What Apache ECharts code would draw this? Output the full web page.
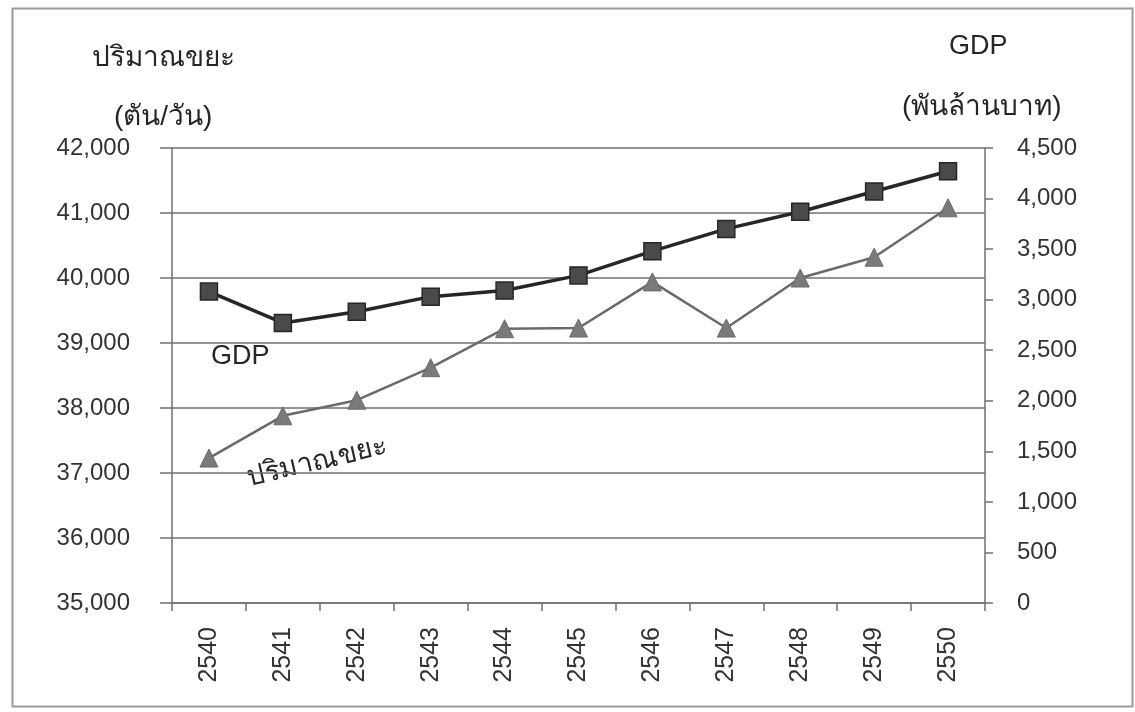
<!DOCTYPE html>
<html>
<head>
<meta charset="utf-8">
<script src="https://cdn.jsdelivr.net/npm/echarts@6/dist/echarts.min.js"></script>
<style>
  html, body { margin: 0; padding: 0; background: #ffffff; }
  #chart { width: 1135px; height: 712px; }
</style>
</head>
<body>
<div id="chart"></div>
<script>
// Years (Buddhist Era)
const years = ['2540', '2541', '2542', '2543', '2544', '2545', '2546', '2547', '2548', '2549', '2550'];

// Waste quantity, tonnes per day (left axis)
const wasteTons = [37230, 37880, 38120, 38620, 39220, 39230, 39940, 39230, 40000, 40320, 41080];

// GDP, thousand million baht (right axis)
const gdpBillions = [3080, 2770, 2880, 3030, 3090, 3240, 3480, 3700, 3870, 4070, 4270];

// Axis ranges
const wasteAxis = { min: 35000, max: 42000, step: 1000 };
const gdpAxis = { min: 0, max: 4500, step: 500 };

const FONT = '"Liberation Sans", Arial, "Noto Sans", "DejaVu Sans", sans-serif';
const TEXT = '#333333';
const TITLE = '#262626';
const RULE = '#707070';

const fmt = v => Number(v).toLocaleString('en-US');

const chart = echarts.init(document.getElementById('chart'), null, { renderer: 'canvas' });

// Free-standing text: titles, units and the in-plot series names
function label(text, x, y, size, extra) {
  return Object.assign({
    type: 'text', x: x, y: y,
    style: { text: text, font: size + 'px ' + FONT, fill: TITLE, align: 'left', verticalAlign: 'middle' }
  }, extra || {});
}

chart.setOption({
  backgroundColor: '#ffffff',
  animation: false,
  textStyle: { fontFamily: FONT, color: TEXT },
  grid: { left: 172, right: 150, top: 148, bottom: 109, containLabel: false },
  xAxis: {
    type: 'category',
    data: years,
    boundaryGap: true,
    axisLine: { lineStyle: { color: RULE, width: 1.5 } },
    axisTick: { show: true, length: 8, inside: false, lineStyle: { color: RULE, width: 1.5 } },
    axisLabel: { rotate: 90, margin: 24, fontSize: 25, color: TEXT, fontFamily: FONT }
  },
  yAxis: [
    {
      type: 'value',
      position: 'left',
      min: wasteAxis.min, max: wasteAxis.max, interval: wasteAxis.step,
      axisLine: { show: true, lineStyle: { color: RULE, width: 1.5 } },
      axisTick: { show: true, length: 12, lineStyle: { color: RULE, width: 1.5 } },
      splitLine: { show: true, lineStyle: { color: RULE, width: 1.5 } },
      axisLabel: { margin: 42, fontSize: 24, color: TEXT, fontFamily: FONT, formatter: fmt }
    },
    {
      type: 'value',
      position: 'right',
      min: gdpAxis.min, max: gdpAxis.max, interval: gdpAxis.step,
      axisLine: { show: true, lineStyle: { color: RULE, width: 1.5 } },
      axisTick: { show: true, length: 8, lineStyle: { color: RULE, width: 1.5 } },
      splitLine: { show: false },
      axisLabel: { margin: 32, fontSize: 24, color: TEXT, fontFamily: FONT, formatter: fmt, align: 'left' }
    }
  ],
  series: [
    {
      name: 'GDP',
      type: 'line',
      yAxisIndex: 1,
      data: gdpBillions,
      symbol: 'rect',
      symbolSize: 17,
      lineStyle: { color: '#262626', width: 3.5 },
      itemStyle: { color: '#4a4a4a', borderColor: '#262626', borderWidth: 1.5 },
      z: 3
    },
    {
      name: 'ปริมาณขยะ',
      type: 'line',
      yAxisIndex: 0,
      data: wasteTons,
      symbol: 'triangle',
      symbolSize: 18,
      lineStyle: { color: '#6a6a6a', width: 2.5 },
      itemStyle: { color: '#7a7a7a', borderColor: '#6a6a6a', borderWidth: 1 },
      z: 2
    }
  ],
  graphic: [
    {
      type: 'rect', left: 10, top: 6, silent: true, z: -1,
      shape: { width: 1120, height: 698 },
      style: { fill: 'none', stroke: '#9a9a9a', lineWidth: 2 }
    },
    label('ปริมาณขยะ', 92, 58, 28),
    label('(ตัน/วัน)', 114, 117, 28),
    label('GDP', 949, 47, 27),
    label('(พันล้านบาท)', 902, 107, 28),
    label('GDP', 211, 357, 27),
    {
      type: 'text', x: 317, y: 462, rotation: 13 * Math.PI / 180,
      style: { text: 'ปริมาณขยะ', font: '28px ' + FONT, fill: TITLE, align: 'center', verticalAlign: 'middle' }
    }
  ]
});
</script>
</body>
</html>
